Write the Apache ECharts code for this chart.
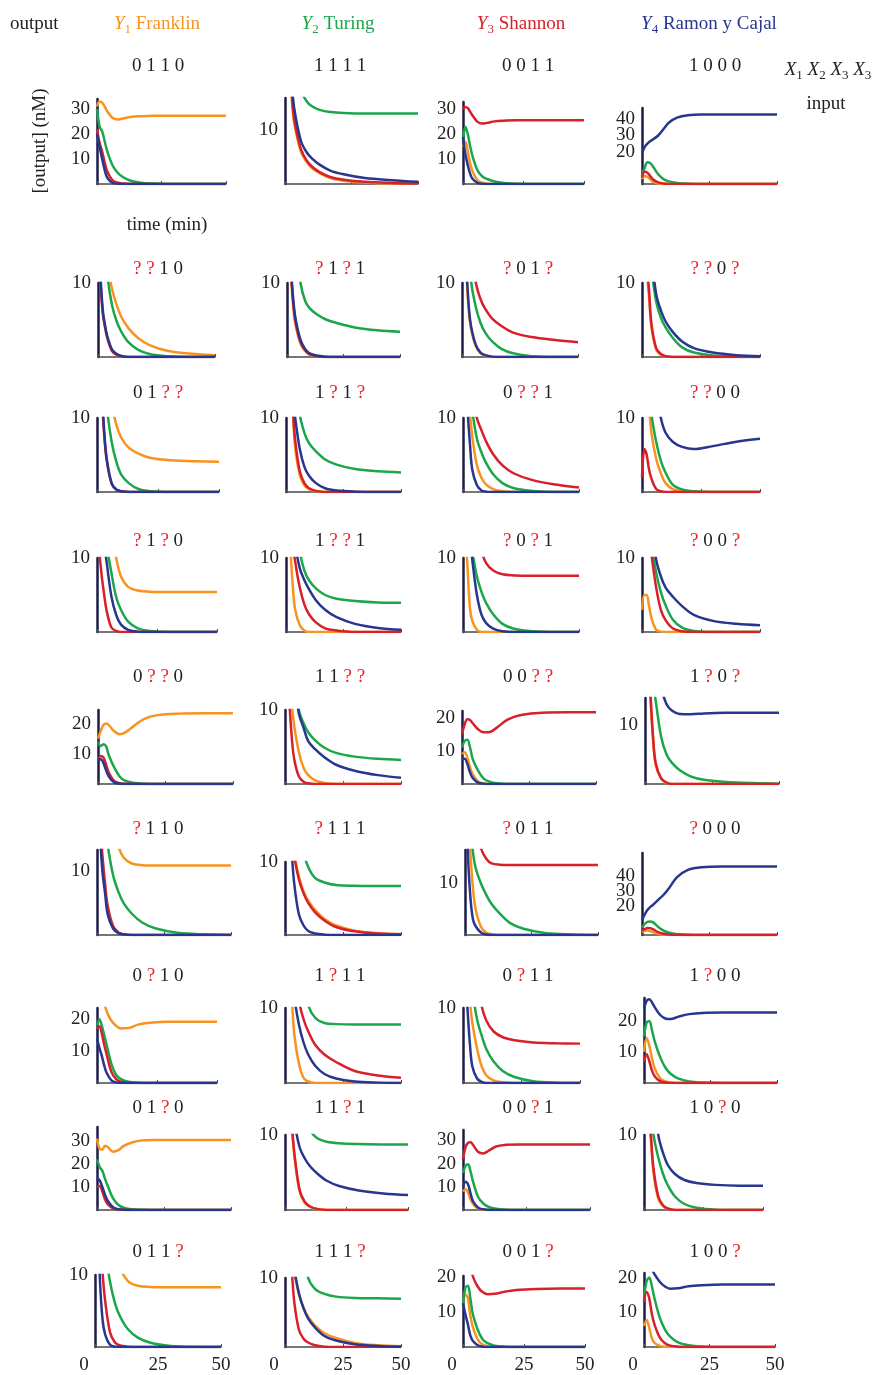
<!DOCTYPE html>
<html><head><meta charset="utf-8">
<script src="https://cdn.jsdelivr.net/npm/echarts@6/dist/echarts.min.js"></script>
<style>html,body{margin:0;padding:0;background:#fff}#c{width:875px;height:1375px}</style>
</head><body><div id="c"></div>
<script>
// ---------- DATA ----------
const T = [0,1,2,3,4,6,8,10,13,17,22,30,40,50];   // time (min)
const SERIES_NAMES = ['Y1 Franklin','Y2 Turing','Y3 Shannon','Y4 Ramon y Cajal'];
const TITLES = [
  ['0110','1111','0011','1000'],
  ['??10','?1?1','?01?','??0?'],
  ['01??','1?1?','0??1','??00'],
  ['?1?0','1??1','?0?1','?00?'],
  ['0??0','11??','00??','1?0?'],
  ['?110','?111','?011','?000'],
  ['0?10','1?11','0?11','1?00'],
  ['01?0','11?1','00?1','10?0'],
  ['011?','111?','001?','100?']
];
const YMAX = [
  [34,16,33,47],[10,10,10,10],[10,10,10,10],[10,10,10,10],
  [24.5,10,22,14.5],[13.2,10,16.5,56],[23.5,10,10,27.4],[36,10,34.5,10],[10,10,20.3,21.3]
];
const YTICKS = [
  [[10,20,30],[10],[10,20,30],[20,30,40]],
  [[10],[10],[10],[10]],[[10],[10],[10],[10]],[[10],[10],[10],[10]],
  [[10,20],[10],[10,20],[10]],
  [[10],[10],[10],[20,30,40]],
  [[10,20],[10],[10],[10,20]],
  [[10,20,30],[10],[10,20,30],[10]],
  [[10],[10],[10,20],[10,20]]
];
const XTICKS = [0,25,50];

// each panel: [Y1 orange, Y2 green, Y3 red, Y4 blue] sampled at T
const r1c1 = [[31,33,32.5,31,29,26.5,25.8,26.2,26.8,27.1,27.3,27.3,27.3,27.3],[30,23,21,17,13,7.5,4.5,2.8,1.3,0.5,0.2,0,0,0],[22,16.5,13,8.5,5,1.5,0.5,0.2,0,0,0,0,0,0],[20,15,10,5.5,2.5,0.5,0.1,0,0,0,0,0,0,0]];
const r1c2 = [[60,40,21,13,10,6,4.2,3,2,1.1,0.6,0.3,0.1,0.05],[40,35,30,26,22,17.5,15.5,14.5,13.8,13.4,13.2,13.1,13.1,13.1],[60,40,22,14,10.5,6.5,4.5,3.3,2.2,1.3,0.8,0.4,0.2,0.1],[60,40,24,16,12.5,8,6,4.8,3.6,2.5,1.8,1.1,0.7,0.4]];
const r1c3 = [[15,17,13,8,5,1.5,0.5,0.1,0,0,0,0,0,0],[18,23,20,15,11,5.5,3,2,1,0.4,0.1,0,0,0],[30,31,30.5,29,27.5,25,24.3,24.6,25.2,25.5,25.7,25.7,25.7,25.7],[19,12,7.5,4,2,0.5,0.1,0,0,0,0,0,0,0]];
const r1c4 = [[3,5,4.5,3,1.5,0.3,0,0,0,0,0,0,0,0],[5,10,13.5,13,11,6,3,1.6,0.7,0.2,0,0,0,0],[4,7.5,7,5,3,1,0.3,0,0,0,0,0,0,0],[19,23,25,26.5,27.5,30,34,38,41,42.5,43,43,43,43]];

const r2c1 = [[80,45,27,18,12.5,9.2,7,5.4,3.9,2.6,1.6,0.8,0.45,0.25],[80,40,22,15,11,7,4.8,3.4,2,1,0.4,0.1,0,0],[40,11,6,4,2.5,0.8,0.3,0.1,0,0,0,0,0,0],[40,12,6.5,4.3,2.8,1,0.4,0.15,0,0,0,0,0,0]];
const r2c2 = [[50,18,10,6,4,1.8,0.8,0.3,0.1,0,0,0,0,0],[90,50,32,22,16,10,7.6,6.6,5.8,5.1,4.6,4,3.6,3.4],[50,19,10.5,6.5,4.4,2,0.9,0.4,0.1,0,0,0,0,0],[50,20,11,7,4.8,2.3,1.1,0.5,0.2,0.05,0,0,0,0]];
const r2c3 = [[50,22,11,6,3.6,1.4,0.5,0.2,0,0,0,0,0,0],[80,40,22,14,10,6.7,4.6,3.3,2.1,1.1,0.5,0.1,0,0],[90,50,30,20,15,10,7.8,6.5,5.2,4.2,3.3,2.7,2.3,2.0],[50,25,12,6.5,4,1.6,0.6,0.25,0.05,0,0,0,0,0]];
const r2c4 = [[50,20,12,8,4,1,0.3,0.1,0,0,0,0,0,0],[80,40,24,16,12,7.5,5.3,4,2.6,1.3,0.6,0.2,0.05,0],[50,22,13,9,4.5,1.2,0.4,0.1,0,0,0,0,0,0],[90,50,30,20,14,8.5,6.3,4.8,3.4,2.1,1.2,0.6,0.25,0.1]];

const r3c1 = [[90,60,40,28,20,12,9,7.3,6,5.2,4.6,4.3,4.15,4.1],[80,40,24,16,11.5,6.8,4,2.3,1.2,0.4,0.1,0,0,0],[50,24,13,7.5,4.2,1.1,0.3,0.1,0,0,0,0,0,0],[50,25,14,8,4.5,1.2,0.3,0.1,0,0,0,0,0,0]];
const r3c2 = [[50,25,15,10.5,6,2.3,0.9,0.4,0.1,0,0,0,0,0],[90,55,35,24,17.5,10.5,8,6.6,5.5,4.4,3.7,3.1,2.8,2.65],[50,26,16,11,7,2.8,1.2,0.5,0.15,0,0,0,0,0],[60,30,18,13,10,5.8,3.4,2.2,1.2,0.5,0.2,0.05,0,0]];
const r3c3 = [[50,25,15,10.8,7.5,3.6,1.9,1,0.4,0.1,0,0,0,0],[70,35,20,14,11,7.2,5.3,3.9,2.4,1.2,0.5,0.15,0,0],[90,45,27,18,14,10,8.3,6.8,5.1,3.6,2.5,1.6,1,0.6],[50,18,11,6.5,3,0.9,0.2,0.05,0,0,0,0,0,0]];
const r3c4 = [[60,30,18,11.5,8,4.5,2.5,1.2,0.4,0.1,0,0,0,0],[70,35,20,14,10.5,6.8,4.2,2.6,1,0.35,0.1,0,0,0],[2,5.8,5,3,1.8,0.4,0.1,0,0,0,0,0,0,0],[90,60,40,30,22,14,10,8,6.8,6.1,5.8,6.2,6.8,7.2]];

const r4c1 = [[90,60,40,30,22,14,10,7.5,6.1,5.6,5.45,5.4,5.4,5.4],[80,40,24,16,12,8,4.7,3,1.4,0.5,0.15,0,0,0],[20,11,7.5,5,2.9,0.6,0.15,0,0,0,0,0,0,0],[60,30,18,12,9.5,4.8,2.3,1,0.3,0.05,0,0,0,0]];
const r4c2 = [[40,18,11,6,3,0.9,0.2,0,0,0,0,0,0,0],[90,60,40,28,20,11,8.3,7,5.9,5,4.5,4.2,4,3.95],[60,30,18,12,9.5,6,3.7,2.4,1.3,0.5,0.2,0,0,0],[80,40,25,17,12,8.6,7,5.8,4.3,3,2,1.1,0.55,0.3]];
const r4c3 = [[40,15,8.5,3.2,1.5,0.3,0,0,0,0,0,0,0,0],[70,35,21,14.5,11,7.5,5.4,3.9,2.4,1.1,0.45,0.1,0,0],[90,60,40,30,22,15,11,9.3,8.3,7.8,7.65,7.6,7.6,7.6],[60,30,18,13,9.8,5,2.3,1.2,0.45,0.1,0,0,0,0]];
const r4c4 = [[3,5,5,3.5,1.9,0.3,0.05,0,0,0,0,0,0,0],[70,40,24,16,12,8,5.4,3.6,1.7,0.6,0.15,0,0,0],[60,30,18,13,10.5,6,3,1.6,0.5,0.1,0,0,0,0],[80,50,30,20,14.5,9.8,7.5,6,4.8,3.5,2.3,1.5,1.1,0.9]];

const r5c1 = [[15,17.5,19.5,20,19.5,17.5,16.5,17,19,21.5,22.8,23.3,23.4,23.4],[14,12.5,13.2,12.5,9.5,5.5,2.5,1.1,0.4,0.1,0,0,0,0],[8,9.3,8.8,6.5,3.8,1,0.25,0.05,0,0,0,0,0,0],[8,8.2,7,4.5,2.5,0.5,0.1,0,0,0,0,0,0,0]];
const r5c2 = [[50,25,14,10.7,7.8,4.3,2.2,1.2,0.5,0.15,0,0,0,0],[90,50,32,22,16,10,8.2,7,5.9,4.9,4.2,3.7,3.4,3.25],[40,16,10.5,6,3.3,1,0.3,0.1,0,0,0,0,0,0],[80,45,28,19,14,9.5,7.6,5.8,4.7,3.6,2.6,1.8,1.2,0.85]];
const r5c3 = [[9,9.6,8,5,3,0.8,0.2,0,0,0,0,0,0,0],[11,13,13.3,11,7.5,4,1.7,0.8,0.2,0,0,0,0,0],[15,18,19.5,19.3,18.3,16.5,15.6,15.6,17,19.4,20.8,21.5,21.6,21.6],[7.5,7.6,6,3.5,1.8,0.4,0.1,0,0,0,0,0,0,0]];
const r5c4 = [[40,24,14.8,7.5,3.2,0.9,0.2,0,0,0,0,0,0,0],[60,35,22,17,14,8,5,3.6,2.3,1.3,0.7,0.35,0.15,0.05],[40,25,15.5,8,3.5,1,0.25,0,0,0,0,0,0,0],[90,60,40,30,24,16.5,13.5,12.4,11.8,11.75,11.9,12,12,12]];

const r6c1 = [[90,60,45,35,28,18,13.8,12,11.1,10.85,10.8,10.8,10.8,10.8],[80,40,25,18,14,9.3,6.7,4.9,3.3,1.9,1,0.35,0.1,0],[40,18,12.5,8,4.5,1.4,0.4,0.1,0,0,0,0,0,0],[40,17,10,6.5,3.2,1,0.3,0.1,0,0,0,0,0,0]];
const r6c2 = [[60,30,20,14.5,11.2,8,6,4.7,3.4,2.2,1.3,0.6,0.25,0.1],[90,60,45,35,27,17,11.5,9.3,7.8,7.2,6.85,6.75,6.7,6.7],[60,30,20,14,10.8,7.6,5.7,4.4,3.1,2,1.1,0.5,0.2,0.1],[50,22,15,10.8,7,2.8,1.3,0.55,0.2,0.05,0,0,0,0]];
const r6c3 = [[40,25,16,9,5,1.6,0.45,0.15,0,0,0,0,0,0],[60,35,22,16,13,10,7.8,6,4.2,2.3,1.2,0.4,0.1,0],[90,60,45,35,27,17,14.8,13.9,13.65,13.6,13.6,13.6,13.6,13.6],[40,17,7.5,3,1.7,0.5,0.1,0,0,0,0,0,0,0]];
const r6c4 = [[2,2.8,3,2.7,2,0.8,0.3,0.1,0,0,0,0,0,0],[5,7.5,9,9.3,8.8,5.5,3,1.6,0.6,0.15,0,0,0,0],[3,4,4.8,4.7,4,2,0.8,0.3,0.1,0,0,0,0,0],[10,14,17,19,20.5,24,27.5,32,39.5,44.5,46.3,46.7,46.7,46.7]];

const r7c1 = [[60,40,30,25.5,22.5,19.5,17.9,17.1,17.2,18.3,18.9,19.2,19.2,19.2],[18,20,18,15,12,6,2.5,1.2,0.4,0.1,0,0,0,0],[17,17.8,15.5,12,9,3.5,1.2,0.4,0.1,0,0,0,0,0],[14,11,8.5,5.5,3.2,0.8,0.2,0,0,0,0,0,0,0]];
const r7c2 = [[50,25,15,11,6.5,2.6,0.7,0.2,0,0,0,0,0,0],[90,60,45,35,28,20,14,10.4,8.7,8,7.85,7.8,7.8,7.8],[80,45,30,22,17,11,8.5,6.9,5.1,3.8,2.8,1.6,1,0.7],[60,30,20,15,11.5,7.8,5.4,3.8,2.3,1.2,0.6,0.2,0.05,0]];
const r7c3 = [[50,25,15,10.8,8,4.6,2.2,1,0.35,0.1,0,0,0,0],[70,40,25,17,12.5,8.5,6.3,4.5,2.9,1.6,0.8,0.25,0.05,0],[90,60,40,28,21,13.5,10.2,8.3,6.9,6.1,5.7,5.4,5.3,5.25],[40,15,9.5,5,2.2,0.6,0.15,0,0,0,0,0,0,0]];
const r7c4 = [[10,14.5,12,8,4.8,1.6,0.5,0.15,0,0,0,0,0,0],[15,19.5,20,17,13.5,8.5,5,3,1.4,0.5,0.15,0,0,0],[7,9.3,7,4,2.2,0.6,0.15,0,0,0,0,0,0,0],[24,26.5,27,26,24.5,22,20.8,20.6,21.4,22.2,22.6,22.7,22.7,22.7]];

const r8c1 = [[31,26.5,26.2,27.9,27.3,25.3,26,27.8,29.3,30.2,30.4,30.4,30.4,30.4],[22,18.6,17,13.5,10.5,5,2.2,1,0.3,0.1,0,0,0,0],[10,10.4,8,4.5,2.5,0.7,0.2,0,0,0,0,0,0,0],[14,12.8,10,6.5,4,1.2,0.3,0.1,0,0,0,0,0,0]];
const r8c2 = [[50,24,14.5,10.2,6.7,2.4,1,0.45,0.1,0,0,0,0,0],[90,60,45,35,28,20,14,10.8,9.6,9.1,8.9,8.8,8.75,8.75],[50,25,15,10.5,7,2.6,1.1,0.5,0.15,0,0,0,0,0],[70,35,22,15,11.5,8.3,6.9,5.9,4.9,3.9,3.2,2.6,2.2,2]];
const r8c3 = [[8,9,7.5,4.5,2.5,0.6,0.15,0,0,0,0,0,0,0],[16,19,19.7,16.5,12,5.5,2.8,1.4,0.5,0.1,0,0,0,0],[22,27,29,29.2,28,25,24.4,25.5,27.4,28.1,28.3,28.3,28.3,28.3],[10,12.2,11,7,3.6,1,0.3,0.1,0,0,0,0,0,0]];
const r8c4 = [[50,24,13,9,5,1.5,0.5,0.15,0,0,0,0,0,0],[70,35,20,13,10,7,4.8,3.3,1.8,0.8,0.3,0.05,0,0],[50,25,14,9.5,5.5,1.8,0.6,0.2,0,0,0,0,0,0],[80,50,32,22,16,10,7.6,6,4.8,4,3.6,3.35,3.25,3.25]];

const r9c1 = [[90,60,45,35,28,20,14,11,9.2,8.5,8.35,8.3,8.3,8.3],[70,40,25,17,13.5,9,6,4.2,2.5,1.3,0.6,0.15,0,0],[50,25,15,10.3,6.5,2,0.6,0.2,0.05,0,0,0,0,0],[40,18,9,3.8,1.8,0.3,0.05,0,0,0,0,0,0,0]];
const r9c2 = [[60,30,19,13.5,10.8,7.6,5.7,4.4,3.1,2,1.3,0.6,0.25,0.1],[90,60,45,35,28,20,14,10,8.4,7.7,7.3,7.1,7.05,7],[50,25,15,10.8,6.5,2.5,1.2,0.65,0.25,0.05,0,0,0,0],[60,30,20,14,11.3,7.8,5.6,4.1,2.8,1.6,0.95,0.4,0.15,0.05]];
const r9c3 = [[12,15,14,9,5.8,2.2,0.7,0.2,0,0,0,0,0,0],[12,17,17.5,14,9.5,5,2.2,1.1,0.4,0.1,0,0,0,0],[21,28,27,24,20.3,17.3,15.7,15.1,15.2,15.8,16.3,16.6,16.7,16.7],[12.5,9.3,6.5,3.3,1.8,0.5,0.1,0,0,0,0,0,0,0]];
const r9c4 = [[6,7.8,5.5,2.5,1.2,0.3,0.05,0,0,0,0,0,0,0],[14,19,20,17.5,14,8.5,5,3,1.3,0.5,0.15,0,0,0],[13,15.8,14,9.5,6.5,2.8,1.1,0.4,0.1,0,0,0,0,0],[40,30,25,22.5,21,18.8,17.4,16.8,16.9,17.5,17.8,18,18,18]];

const PANELS = [
  [r1c1,r1c2,r1c3,r1c4],[r2c1,r2c2,r2c3,r2c4],[r3c1,r3c2,r3c3,r3c4],
  [r4c1,r4c2,r4c3,r4c4],[r5c1,r5c2,r5c3,r5c4],[r6c1,r6c2,r6c3,r6c4],
  [r7c1,r7c2,r7c3,r7c4],[r8c1,r8c2,r8c3,r8c4],[r9c1,r9c2,r9c3,r9c4]
];

// ---------- LAYOUT (pixels) ----------
const ROW_BOTTOM = [184,357,492,632,784,935,1083,1210,1354];
const PANEL_TOP = [[99,98,102,108],[283,283,283,283],[418,418,418,418],[558,558,558,558],
  [710,710,711,698],[850,862,850,853],[1008,1008,1008,998],[1127,1135,1130,1135],[1275,1278,1276,1273]];
const PANEL_X = [
  [[97,226],[285,418],[463,584],[642,777]],
  [[98,215],[287,400],[462,578],[642,760]],
  [[97,219],[286,401],[463,579],[642,760]],
  [[97,217],[286,401],[463,579],[642,760]],
  [[98,233],[285,401],[462,596],[645,779]],
  [[97,231],[285,401],[465,598],[642,777]],
  [[97,217],[285,401],[463,580],[644,777]],
  [[97,231],[285,408],[463,590],[644,763]],
  [[95,221],[285,401],[463,585],[644,775]]
];
const TITLE_Y = [66,269,393,541,677,829,976,1108,1252];
const TITLE_X = [158,340,528,715];

const COLORS = ['#F7931E','#1BA64B','#D7202A','#27368E'];
const FONT = '"Liberation Serif", "DejaVu Serif", serif';
const QRED = '#E8262C';

const chart = echarts.init(document.getElementById('c'), null, {renderer:'canvas'});
const grids = [], xAxes = [], yAxes = [], series = [], graphics = [];

for (let r = 0; r < 9; r++) {
  for (let c = 0; c < 4; c++) {
    const idx = r*4 + c;
    const [xl, xr] = PANEL_X[r][c];
    const top = PANEL_TOP[r][c], bot = ROW_BOTTOM[r];
    grids.push({left: xl, top: top, width: xr - xl, height: bot - top, containLabel: false});
    const last = (r === 8);
    xAxes.push({
      gridIndex: idx, type: 'value', min: 0, max: 50, interval: 25,
      axisLine: {show: true, onZero: false, lineStyle: {color: '#4a4a4a', width: 1.5}},
      axisTick: {show: true, inside: true, length: 3, lineStyle: {color: '#4a4a4a', width: 1}},
      splitLine: {show: false},
      axisLabel: {
        show: last, margin: 9, color: '#222', fontFamily: FONT, fontSize: 19,
        formatter: v => XTICKS.includes(v) ? (v === 0 ? '{z|0}' : String(v)) : '',
        rich: {z: {padding: [0, 22, 0, 0], color: '#222', fontFamily: FONT, fontSize: 19}}
      }
    });
    const ticks = YTICKS[r][c];
    yAxes.push({
      gridIndex: idx, type: 'value', min: 0, max: YMAX[r][c], interval: 10,
      axisLine: {show: true, lineStyle: {color: '#1c1c48', width: 2.5}},
      axisTick: {show: false}, splitLine: {show: false},
      axisLabel: {
        show: true, margin: 7, color: '#222', fontFamily: FONT, fontSize: 19,
        showMinLabel: false, showMaxLabel: true,
        formatter: v => ticks.includes(v) ? String(v) : ''
      }
    });
    PANELS[r][c].forEach((vals, k) => {
      series.push({
        type: 'line', name: SERIES_NAMES[k], xAxisIndex: idx, yAxisIndex: idx,
        data: T.map((t, i) => [t, vals[i]]),
        showSymbol: false, smooth: 0.35, clip: true, silent: true,
        lineStyle: {color: COLORS[k], width: 2.5}, itemStyle: {color: COLORS[k]},
        z: 2 + k
      });
    });
    // panel title
    const title = TITLES[r][c].split('').map(ch => ch === '?' ? '{q|?}' : '{n|' + ch + '}').join('{n| }');
    graphics.push({
      type: 'text', x: TITLE_X[c], y: TITLE_Y[r],
      style: {
        text: title, textAlign: 'center', textVerticalAlign: 'middle',
        rich: {
          n: {fontFamily: FONT, fontSize: 19, fill: '#222'},
          q: {fontFamily: FONT, fontSize: 19, fill: QRED}
        }
      }
    });
  }
}

// headers
function header(x, y, letter, sub, rest, color) {
  return {
    type: 'text', x: x, y: y,
    style: {
      text: '{i|' + letter + '}{s|' + sub + '}' + (rest ? '{t|' + rest + '}' : ''),
      textAlign: 'center', textVerticalAlign: 'middle',
      rich: {
        i: {fontFamily: FONT, fontSize: 19, fontStyle: 'italic', fill: color, lineHeight: 24},
        s: {fontFamily: FONT, fontSize: 13, fill: color, verticalAlign: 'bottom', lineHeight: 14},
        t: {fontFamily: FONT, fontSize: 19, fill: color, lineHeight: 24}
      }
    }
  };
}
graphics.push({type: 'text', x: 10, y: 24, style: {text: 'output', font: '19px ' + FONT, fill: '#222', textAlign: 'left', textVerticalAlign: 'middle'}});
graphics.push(header(157, 24, 'Y', '1', ' Franklin', COLORS[0]));
graphics.push(header(338, 24, 'Y', '2', ' Turing', COLORS[1]));
graphics.push(header(521, 24, 'Y', '3', ' Shannon', COLORS[2]));
graphics.push(header(709, 24, 'Y', '4', ' Ramon y Cajal', COLORS[3]));
graphics.push({
  type: 'text', x: 828, y: 70,
  style: {
    text: '{i|X}{s|1}{i| X}{s|2}{i| X}{s|3}{i| X}{s|3}', textAlign: 'center', textVerticalAlign: 'middle',
    rich: {
      i: {fontFamily: FONT, fontSize: 19, fontStyle: 'italic', fill: '#222', lineHeight: 24},
      s: {fontFamily: FONT, fontSize: 13, fill: '#222', verticalAlign: 'bottom', lineHeight: 14}
    }
  }
});
graphics.push({type: 'text', x: 826, y: 104, style: {text: 'input', font: '19px ' + FONT, fill: '#222', textAlign: 'center', textVerticalAlign: 'middle'}});
graphics.push({type: 'text', x: 167, y: 225, style: {text: 'time (min)', font: '19px ' + FONT, fill: '#222', textAlign: 'center', textVerticalAlign: 'middle'}});
graphics.push({type: 'text', x: 40, y: 141, rotation: Math.PI / 2, style: {text: '[output] (nM)', font: '19px ' + FONT, fill: '#222', textAlign: 'center', textVerticalAlign: 'middle'}});

chart.setOption({
  animation: false,
  backgroundColor: '#ffffff',
  grid: grids, xAxis: xAxes, yAxis: yAxes, series: series,
  graphic: graphics
});
</script></body></html>
